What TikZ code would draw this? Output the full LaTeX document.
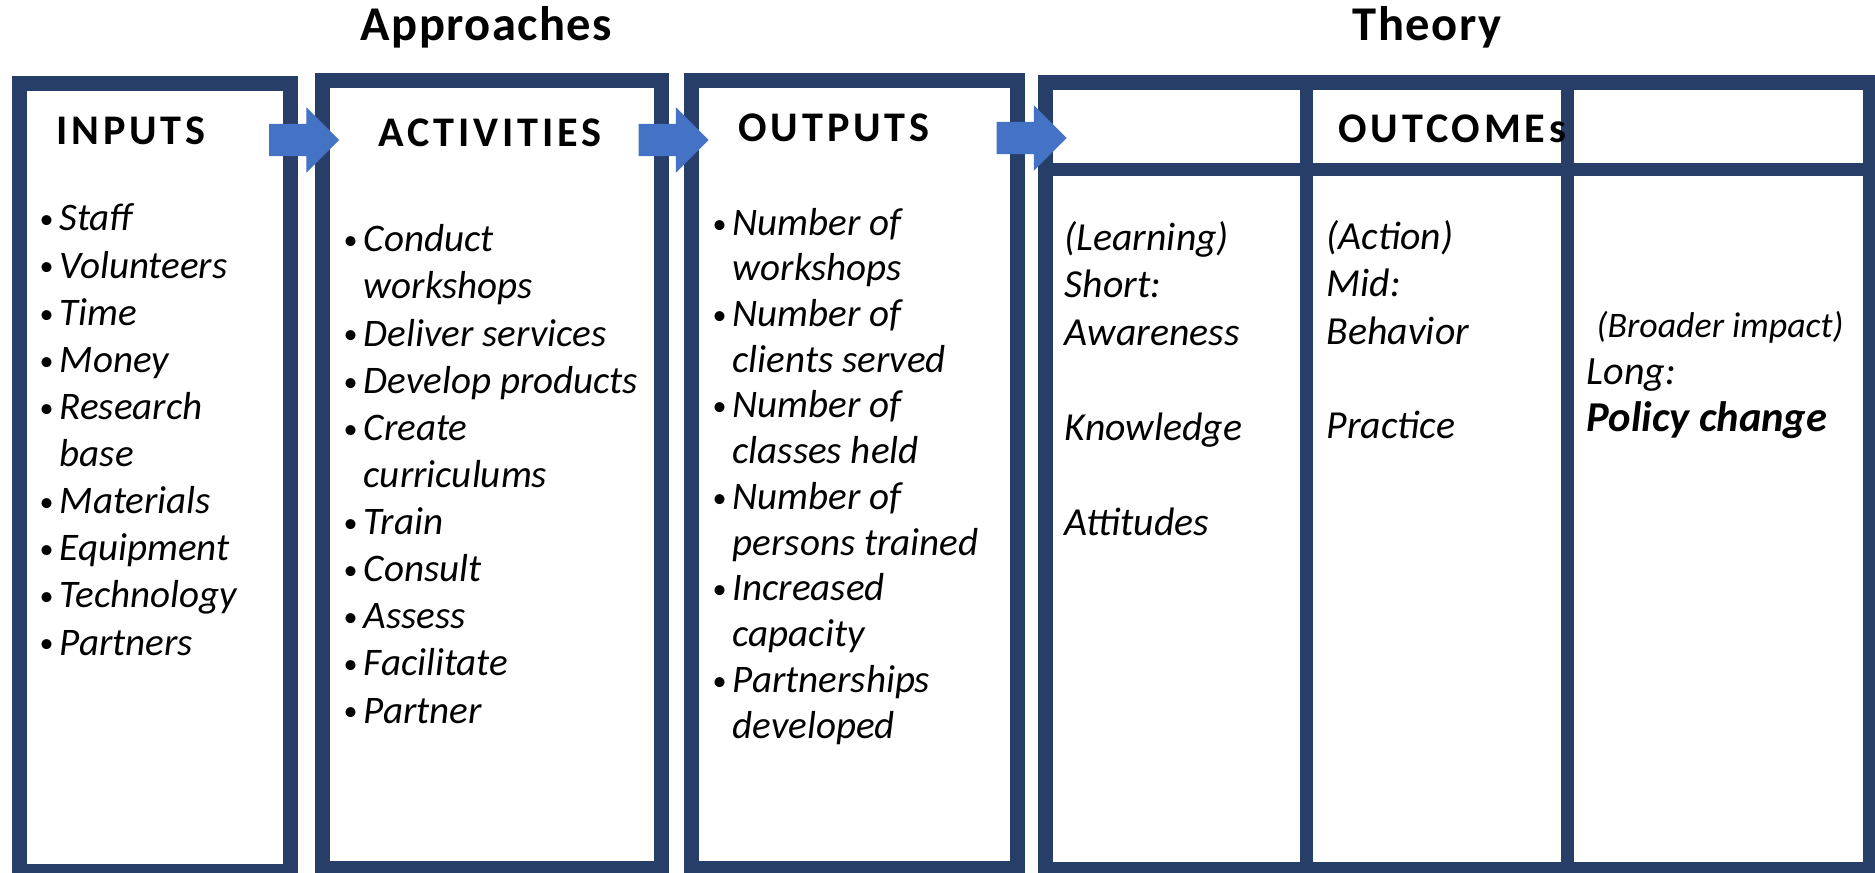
\documentclass[tikz,border=0pt]{standalone}
\usepackage{fontspec}
\setmainfont{Carlito}
\usetikzlibrary{positioning,shapes.arrows}
\definecolor{boxnavy}{RGB}{38,62,104}
\definecolor{arrowblue}{RGB}{68,114,196}
\newcommand{\bul}{\makebox[0.2cm][l]{\raisebox{0.6pt}{\fontsize{8}{8}\selectfont\upshape\textbullet}}}
\newcommand{\hang}{\hspace*{0.2cm}}

\begin{document}
\begin{tikzpicture}[
    x=0.01cm, y=-0.01cm,
    colbox/.style={rectangle, draw=boxnavy, line width=0.15cm, inner sep=0pt},
    divider/.style={draw=boxnavy, line width=0.13cm},
    flowarrow/.style={single arrow, fill=arrowblue, draw=none, inner xsep=0pt, inner ysep=0.155cm,
        minimum height=0.7cm, minimum width=0.64cm, single arrow head extend=0.165cm},
    title/.style={anchor=base west, inner sep=0pt, font=\fontsize{13.8}{16}\selectfont\bfseries\addfontfeature{LetterSpace=3}},
    heading/.style={anchor=base west, inner sep=0pt, font=\fontsize{12}{14}\selectfont\bfseries\addfontfeature{LetterSpace=9}},
    itemtext/.style={anchor=base west, inner sep=0pt, align=left, font=\fontsize{11.1}{13.4}\selectfont\itshape},
  ]
  \useasboundingbox[fill=white] (0,0) rectangle (1875,873);

  % columns
  \node[colbox, minimum width=2.71cm, minimum height=7.875cm] (inbox)  at (155,477.75) {};
  \node[colbox, minimum width=3.38cm, minimum height=7.875cm] (actbox) at (492,474.75) {};
  \node[colbox, minimum width=3.26cm, minimum height=7.875cm] (outbox) at (854.5,474.75) {};
  \node[colbox, minimum width=8.24cm, minimum height=7.865cm] (resbox) at (1458,476.25) {};
  \draw[divider] (resbox.west |- 0,169.5) -- (resbox.east |- 0,169.5);
  \draw[divider] (1306,0 |- resbox.north) -- (1306,0 |- resbox.south);
  \draw[divider] (1567,0 |- resbox.north) -- (1567,0 |- resbox.south);

  % arrows between columns
  \node[flowarrow] (arr1) at (296,140) {};
  \node[flowarrow] (arr2) at (665.5,140) {};
  \node[flowarrow] (arr3) at (1023.5,138) {};

  % titles
  \node[title] (appr) at (360,41) {Approaches};
  \node[title] (theo) at (1352,41) {Theory};

  % headings
  \node[heading] (inhead)  at (56,145)   {INPUTS};
  \node[heading] (acthead) at (378,147)  {ACTIVITIES};
  \node[heading] (outhead) at (738,142)  {OUTPUTS};
  \node[heading] (reshead) at (1338,143) {OUTCOMEs};

  % lists (base = last line)
  \node[itemtext] (inlist) at (39,655) {\bul Staff\\ \bul Volunteers\\ \bul Time\\ \bul Money\\
    \bul Research\\ \hang base\\ \bul Materials\\ \bul Equipment\\ \bul Technology\\ \bul Partners};
  \node[itemtext] (actlist) at (343,723) {\bul Conduct\\ \hang workshops\\ \bul Deliver services\\
    \bul Develop products\\ \bul Create\\ \hang curriculums\\ \bul Train\\ \bul Consult\\
    \bul Assess\\ \bul Facilitate\\ \bul Partner};
  \node[itemtext, font=\fontsize{11.1}{13}\selectfont\itshape] (outlist) at (712,738) {\bul Number of\\
    \hang workshops\\ \bul Number of\\ \hang clients served\\ \bul Number of\\ \hang classes held\\
    \bul Number of\\ \hang persons trained\\ \bul Increased\\ \hang capacity\\
    \bul Partnerships\\ \hang developed};

  % outcome columns
  \node[itemtext, font=\fontsize{11.3}{13.5}\selectfont\itshape] (short) at (1064,535)
    {(Learning)\\ Short:\\ Awareness\\[13.5pt] Knowledge\\[13.5pt] Attitudes};
  \node[itemtext, font=\fontsize{11.3}{13.5}\selectfont\itshape] (mid) at (1326,439)
    {(Action)\\ Mid:\\ Behavior\\[13.5pt] Practice};
  \node[itemtext, font=\fontsize{11.4}{13.4}\selectfont\itshape] (long) at (1586,432)
    {\hspace*{0.1cm}{\fontsize{10.2}{12}\selectfont(Broader impact)}\\ Long:\\
     {\fontsize{12.1}{13.4}\selectfont\bfseries Policy change}};
\end{tikzpicture}
\end{document}
